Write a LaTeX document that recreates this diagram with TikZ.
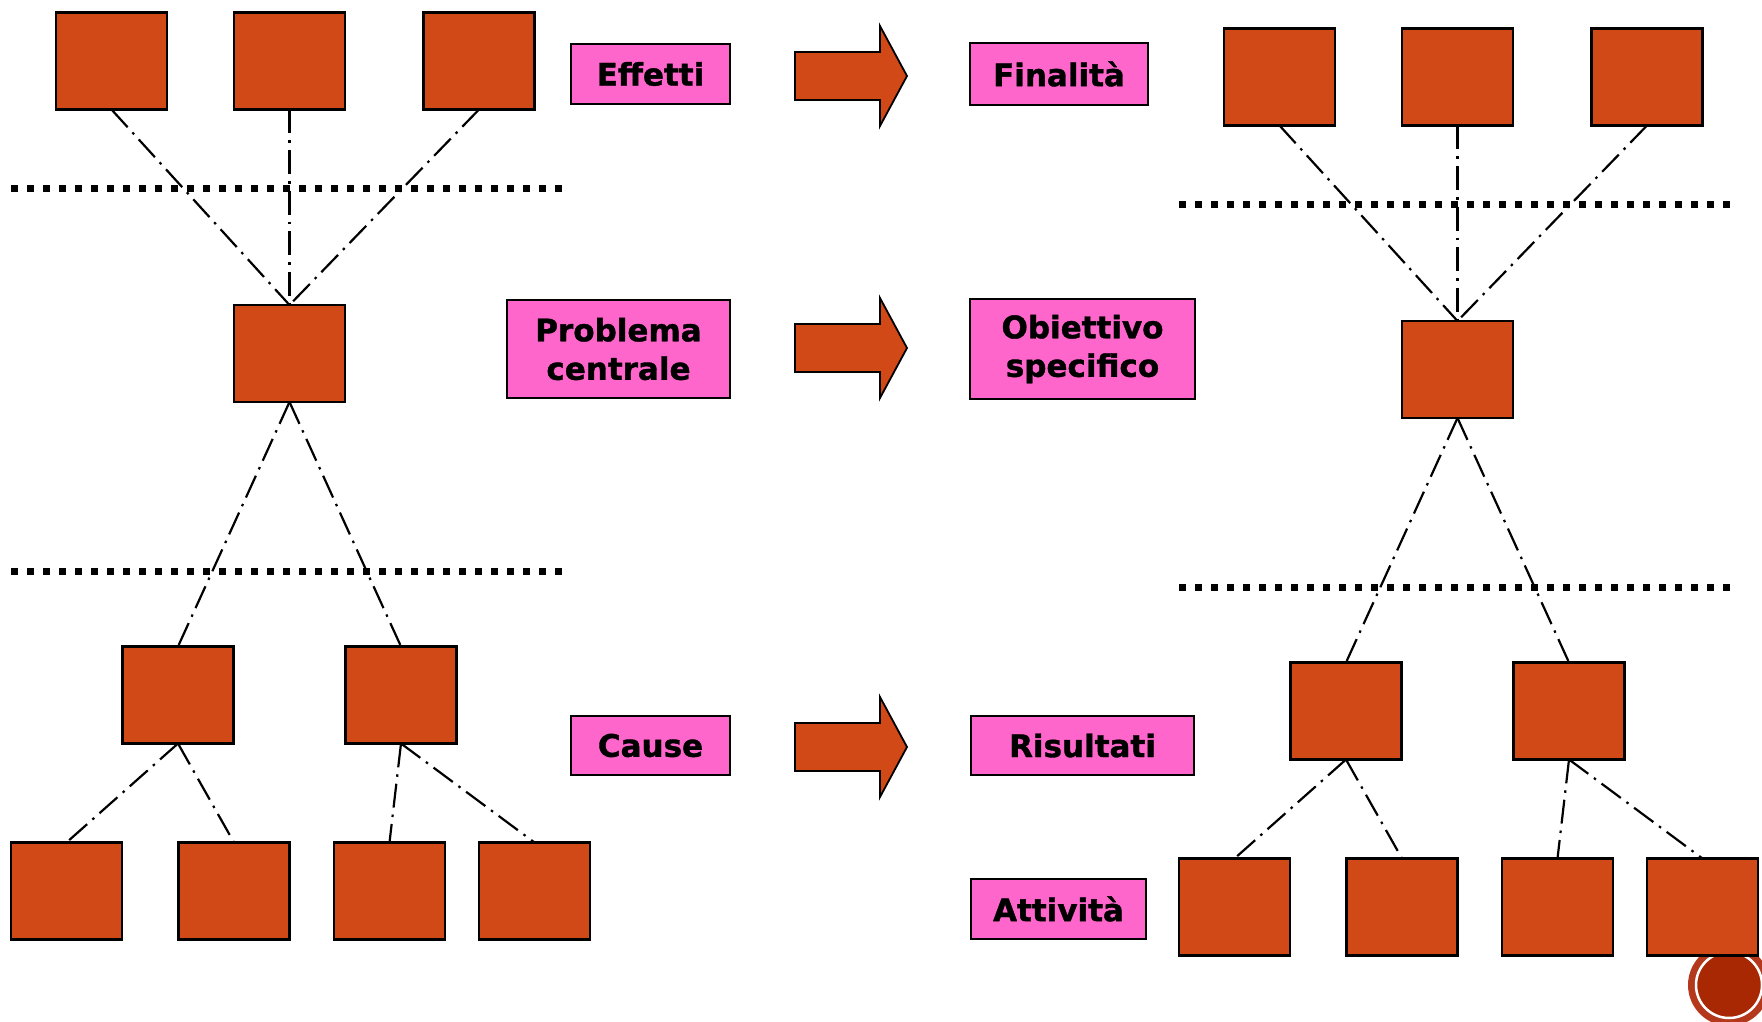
\documentclass[tikz,border=0pt]{standalone}
\usepackage{fontspec}
\setmainfont{DejaVu Sans}
\newfontfamily\lblfont{DejaVu Sans Bold}[FakeBold=1.2]
\definecolor{boxred}{RGB}{210,73,24}
\definecolor{labelpink}{RGB}{255,102,204}
\definecolor{sealouter}{RGB}{180,56,28}
\definecolor{sealinner}{RGB}{168,40,4}
\tikzset{
  bx/.style={draw=black, line width=2.2pt, fill=boxred, minimum width=111pt, minimum height=97pt, inner sep=0pt, outer sep=0pt},
  lbl/.style={draw=black, line width=2.2pt, fill=labelpink, inner sep=0pt, outer sep=0pt, align=center, font=\lblfont\fontsize{31}{38.5}\selectfont},
  sepline/.style={line width=7pt, dash pattern=on 7pt off 9pt},
  link/.style={line width=2.2pt, dash pattern=on 24pt off 7pt on 2.5pt off 7pt},
  bigarrow/.style={draw=black, line width=1.8pt, fill=boxred, line join=miter}
}
\begin{document}
\begin{tikzpicture}[x=1pt,y=-1pt]
\useasboundingbox (0,0) rectangle (1762,1022);
% seal in the corner
\begin{scope}
  \clip (0,0) rectangle (1762,1022);
  \fill[sealouter] (1729,985) circle (41pt);
  \fill[sealinner] (1729,985) circle (32pt);
  \draw[white, line width=2.5pt] (1729,985) circle (33pt);
\end{scope}
% separators
\draw[sepline] (11,188) -- (563,188);
\draw[sepline] (11,571) -- (563,571);
\draw[sepline] (1179,204) -- (1731,204);
\draw[sepline] (1179,587) -- (1731,587);
% left tree
\node[bx] (lt1) at (111.5,61) {};
\node[bx] (lt2) at (289.5,61) {};
\node[bx] (lt3) at (479,61) {};
\node[bx] (lc) at (289.5,353.5) {};
\node[bx] (lk1) at (178,695) {};
\node[bx] (lk2) at (401,695) {};
\node[bx] (lb1) at (66.5,891) {};
\node[bx] (lb2) at (234,891) {};
\node[bx] (lb3) at (389.5,891) {};
\node[bx] (lb4) at (534.5,891) {};
% right tree
\node[bx] (rt1) at (1279.5,77) {};
\node[bx] (rt2) at (1457.5,77) {};
\node[bx] (rt3) at (1647,77) {};
\node[bx] (rc) at (1457.5,369.5) {};
\node[bx] (rk1) at (1346,711) {};
\node[bx] (rk2) at (1569,711) {};
\node[bx] (rb1) at (1234.5,907) {};
\node[bx] (rb2) at (1402,907) {};
\node[bx] (rb3) at (1557.5,907) {};
\node[bx] (rb4) at (1702.5,907) {};
% links
\foreach \a/\b in {lt1/lc, lt2/lc, lt3/lc, lc/lk1, lc/lk2, lk1/lb1, lk1/lb2, lk2/lb3, lk2/lb4,
                   rt1/rc, rt2/rc, rt3/rc, rc/rk1, rc/rk2, rk1/rb1, rk1/rb2, rk2/rb3, rk2/rb4}
  \draw[link] (\a.south) -- (\b.north);
% labels
\node[lbl, minimum width=159pt, minimum height=60pt] (effetti) at (650.5,74) {Effetti};
\node[lbl, minimum width=223pt, minimum height=98pt] (problema) at (618.5,349) {Problema\\centrale};
\node[lbl, minimum width=159pt, minimum height=59pt] (cause) at (650.5,745.5) {Cause};
\node[lbl, minimum width=178pt, minimum height=62pt] (finalita) at (1059,74) {Finalità};
\node[lbl, minimum width=225pt, minimum height=100pt] (obiettivo) at (1082.5,349) {Obiettivo\\specifico};
\node[lbl, minimum width=223pt, minimum height=59pt] (risultati) at (1082.5,745.5) {Risultati};
\node[lbl, minimum width=175pt, minimum height=60pt] (attivita) at (1058.5,909) {Attività};
% block arrows
\foreach \yy in {76,348,747}
  \draw[bigarrow] (795,{\yy-24}) -- (880,{\yy-24}) -- (880,{\yy-50}) -- (907,\yy)
    -- (880,{\yy+50}) -- (880,{\yy+24}) -- (795,{\yy+24}) -- cycle;
\end{tikzpicture}
\end{document}
